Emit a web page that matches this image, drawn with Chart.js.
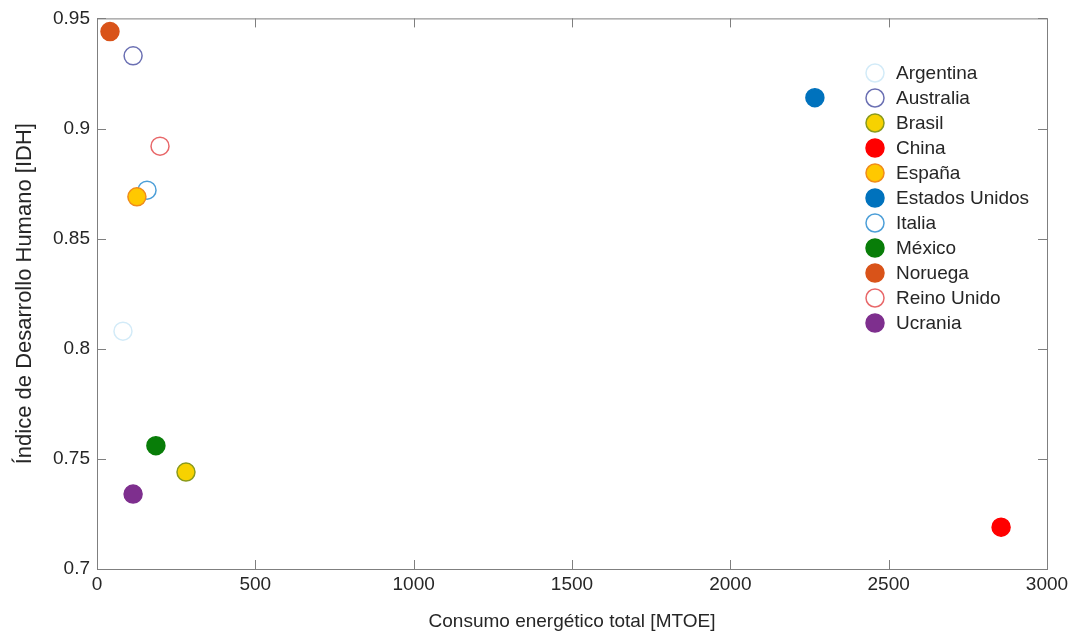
<!DOCTYPE html>
<html lang="es">
<head>
<meta charset="UTF-8">
<title>IDH vs consumo energético</title>
<style>
  html, body { margin: 0; padding: 0; background: #fff; }
  #wrap { width: 1073px; height: 636px; }
</style>
</head>
<body>
<div id="wrap"><canvas id="chart" width="1073" height="636"></canvas></div>
<script src="https://cdn.jsdelivr.net/npm/chart.js@4/dist/chart.umd.min.js"></script>
<script>
// datos
const paises  = ['Argentina', 'Australia', 'Brasil', 'China', 'España', 'Estados Unidos', 'Italia', 'México', 'Noruega', 'Reino Unido', 'Ucrania'];
const consumo = [82, 114, 281, 2855, 126, 2267, 158, 186, 41, 199, 114];
const idh     = [0.808, 0.933, 0.744, 0.719, 0.869, 0.914, 0.872, 0.756, 0.944, 0.892, 0.734];
const relleno = ['#ffffff', '#ffffff', '#f7d200', '#ff0000', '#ffc800', '#0072bd', '#ffffff', '#087d08', '#d95319', '#ffffff', '#7e2f8e'];
const borde   = ['#d3ebf8', '#6b70b3', '#8a9a1c', '#ff0000', '#f08c1a', '#0072bd', '#4d9fd8', '#087d08', '#d95319', '#e8686a', '#7e2f8e'];
const ticksX  = [0, 500, 1000, 1500, 2000, 2500, 3000];
const ticksY  = [0.7, 0.75, 0.8, 0.85, 0.9, 0.95];

const FONT = "'Liberation Sans', Arial, sans-serif";
const GRIS = '#262626';

const datasets = paises.map((p, i) => ({
  label: p,
  data: [{ x: consumo[i], y: idh[i] }],
  backgroundColor: relleno[i],
  borderColor: borde[i],
  borderWidth: 1.5,
  pointRadius: 9,
  pointHoverRadius: 9
}));

// caja y ticks hacia dentro, estilo matlab
const cajaPlugin = {
  id: 'caja',
  afterDraw(chart) {
    const { ctx, chartArea: a, scales } = chart;
    ctx.save();
    ctx.strokeStyle = '#7f7f7f';
    ctx.lineWidth = 1;
    ctx.strokeRect(a.left + 0.5, a.top + 0.5, a.right - a.left, a.bottom - a.top);
    const L = 9;
    ctx.beginPath();
    ticksX.forEach(v => {
      const x = Math.round(scales.x.getPixelForValue(v)) + 0.5;
      ctx.moveTo(x, a.bottom); ctx.lineTo(x, a.bottom - L);
      ctx.moveTo(x, a.top); ctx.lineTo(x, a.top + L);
    });
    ticksY.forEach(v => {
      const y = Math.round(scales.y.getPixelForValue(v)) + 0.5;
      ctx.moveTo(a.left, y); ctx.lineTo(a.left + L, y);
      ctx.moveTo(a.right, y); ctx.lineTo(a.right - L, y);
    });
    ctx.stroke();

    // leyenda
    const lx = 875, ly0 = 73, dy = 25;
    ctx.font = '19px ' + FONT;
    ctx.textBaseline = 'middle';
    ctx.textAlign = 'left';
    chart.data.datasets.forEach((d, i) => {
      const y = ly0 + i * dy;
      ctx.beginPath();
      ctx.arc(lx, y, 9, 0, Math.PI * 2);
      ctx.fillStyle = d.backgroundColor;
      ctx.fill();
      ctx.lineWidth = 1.5;
      ctx.strokeStyle = d.borderColor;
      ctx.stroke();
      ctx.fillStyle = GRIS;
      ctx.fillText(d.label, 896, y + 1);
    });
    ctx.restore();
  }
};

new Chart(document.getElementById('chart'), {
  type: 'scatter',
  data: { datasets },
  options: {
    responsive: false,
    animation: false,
    layout: { padding: { top: 17, right: 26, left: 0, bottom: 3 } },
    plugins: { legend: { display: false }, tooltip: { enabled: false } },
    scales: {
      x: {
        type: 'linear', min: 0, max: 3000,
        afterBuildTicks: s => { s.ticks = ticksX.map(v => ({ value: v })); },
        afterFit: s => { s.height = 64; },
        grid: { display: false, drawTicks: false, tickLength: 0 },
        border: { display: false },
        ticks: { color: GRIS, font: { family: FONT, size: 19 }, padding: 4, maxRotation: 0,
                 callback: v => String(v) },
        title: { display: true, text: 'Consumo energético total [MTOE]', color: GRIS,
                 font: { family: FONT, size: 19 }, padding: { top: 10, bottom: 0 } }
      },
      y: {
        type: 'linear', min: 0.7, max: 0.95,
        afterBuildTicks: s => { s.ticks = ticksY.map(v => ({ value: v })); },
        afterFit: s => { s.width = 97; },
        grid: { display: false, drawTicks: false, tickLength: 0 },
        border: { display: false },
        ticks: { color: GRIS, font: { family: FONT, size: 19 }, padding: 7,
                 callback: v => String(parseFloat(v.toFixed(2))) },
        title: { display: true, text: 'Índice de Desarrollo Humano [IDH]', color: GRIS,
                 font: { family: FONT, size: 22 }, padding: { top: 12, bottom: 0 } }
      }
    }
  },
  plugins: [cajaPlugin]
});
</script>
</body>
</html>
